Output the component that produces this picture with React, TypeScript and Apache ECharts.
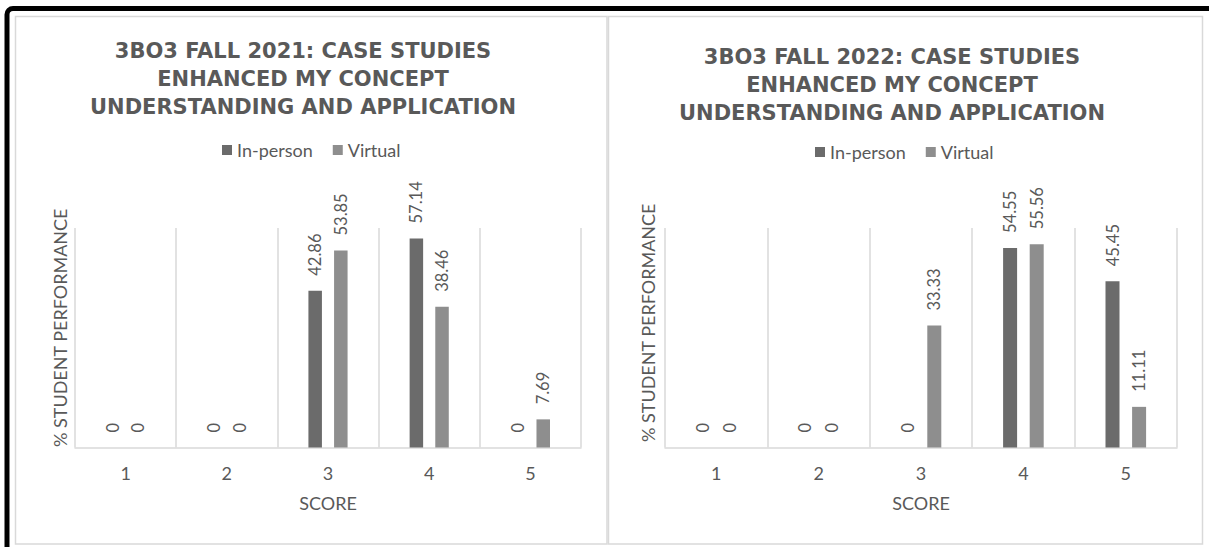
import React, { useEffect, useRef } from "react";
import * as echarts from "echarts";

// Score categories shared by both surveys
const scores = ["1", "2", "3", "4", "5"];

// Fall 2021 survey: % of students per score
const inPerson2021 = [0, 0, 42.86, 57.14, 0];
const virtual2021 = [0, 0, 53.85, 38.46, 7.69];

// Fall 2022 survey: % of students per score
const inPerson2022 = [0, 0, 0, 54.55, 45.45];
const virtual2022 = [0, 0, 33.33, 55.56, 11.11];

const title2021 = "3BO3 FALL 2021: CASE STUDIES\nENHANCED MY CONCEPT\nUNDERSTANDING AND APPLICATION";
const title2022 = "3BO3 FALL 2022: CASE STUDIES\nENHANCED MY CONCEPT\nUNDERSTANDING AND APPLICATION";
const seriesNames = ["In-person", "Virtual"];
const xName = "SCORE";
const yName = "% STUDENT PERFORMANCE";

const TEXT = "#595959";
const GRID_LINE = "#d9d9d9";
const DARK = "#6b6b6b";
const LIGHT = "#8e8e8e";
const FONT = "Lato, 'Open Sans', sans-serif";

const barLabel = {
  show: true,
  position: "top" as const,
  rotate: 90,
  align: "left" as const,
  verticalAlign: "middle" as const,
  distance: 15,
  color: TEXT,
  fontFamily: FONT,
  fontSize: 16.5,
};

function makeBar(name: string, data: number[], idx: number, color: string, width: number) {
  return {
    type: "bar",
    name,
    data,
    xAxisIndex: idx,
    yAxisIndex: idx,
    barWidth: width,
    barGap: "90%",
    itemStyle: { color },
    label: barLabel,
  };
}

function xAxisFor(idx: number) {
  return {
    type: "category",
    gridIndex: idx,
    data: scores,
    boundaryGap: true,
    axisLine: { show: true, lineStyle: { color: GRID_LINE, width: 1.5 } },
    axisTick: { show: false },
    splitLine: { show: true, lineStyle: { color: GRID_LINE, width: 1.5 } },
    axisLabel: { color: TEXT, fontFamily: FONT, fontSize: 18, margin: 16 },
    name: xName,
    nameLocation: "middle",
    nameGap: 46,
    nameTextStyle: { color: TEXT, fontFamily: FONT, fontSize: 18 },
  };
}

function yAxisFor(idx: number, gap: number, shift: number) {
  return {
    type: "value",
    gridIndex: idx,
    min: 0,
    max: 60,
    axisLine: { show: false },
    axisTick: { show: false },
    axisLabel: { show: false },
    splitLine: { show: false },
    name: yName,
    nameLocation: "middle",
    nameGap: gap,
    nameTextStyle: {
      color: TEXT,
      fontFamily: FONT,
      fontSize: 18,
      padding: [0, 0, 0, shift],
    },
  };
}

const titleStyle = {
  color: TEXT,
  fontFamily: "'DejaVu Sans', sans-serif",
  fontWeight: "bold" as const,
  fontSize: 21,
  lineHeight: 28,
};

const legendBase = {
  data: seriesNames,
  padding: 0,
  icon: "rect",
  itemWidth: 10,
  itemHeight: 10,
  itemGap: 20,
  textStyle: { color: TEXT, fontFamily: FONT, fontSize: 18 },
};

export default function App() {
  const ref = useRef<HTMLDivElement>(null);

  useEffect(() => {
    if (!ref.current) return;
    const chart = echarts.init(ref.current, undefined, { renderer: "svg" });

    chart.setOption({
      animation: false,
      backgroundColor: "#ffffff",
      title: [
        { text: title2021, left: 303, top: 37, textAlign: "center", padding: 0, textStyle: titleStyle },
        { text: title2022, left: 892, top: 43, textAlign: "center", padding: 0, textStyle: titleStyle },
      ],
      legend: [
        { ...legendBase, left: 222, top: 141 },
        { ...legendBase, left: 815, top: 143 },
      ],
      grid: [
        { left: 75, top: 228, width: 506, height: 219.5 },
        { left: 665, top: 228, width: 512, height: 219.5 },
      ],
      xAxis: [xAxisFor(0), xAxisFor(1)],
      yAxis: [yAxisFor(0, 6, 20), yAxisFor(1, 8, 30)],
      series: [
        makeBar(seriesNames[0], inPerson2021, 0, DARK, 13.5),
        makeBar(seriesNames[1], virtual2021, 0, LIGHT, 13.5),
        makeBar(seriesNames[0], inPerson2022, 1, DARK, 14),
        makeBar(seriesNames[1], virtual2022, 1, LIGHT, 14),
      ],
      graphic: [
        // outer black frame, running off the right and bottom edges
        {
          type: "rect",
          shape: { x: 7, y: 8.5, width: 1230, height: 560, r: 6 },
          style: { fill: "none", stroke: "#000000", lineWidth: 5 },
          silent: true,
        },
        // panel outlines
        {
          type: "rect",
          shape: { x: 15.5, y: 16.5, width: 591.5, height: 527.5 },
          style: { fill: "none", stroke: GRID_LINE, lineWidth: 1.5 },
          silent: true,
        },
        {
          type: "rect",
          shape: { x: 608.5, y: 16.5, width: 594, height: 527.5 },
          style: { fill: "none", stroke: GRID_LINE, lineWidth: 1.5 },
          silent: true,
        },
      ],
    });

    return () => chart.dispose();
  }, []);

  return (
    <div
      ref={ref}
      style={{ position: "fixed", left: 0, top: 0, width: 1209, height: 547 }}
    />
  );
}
